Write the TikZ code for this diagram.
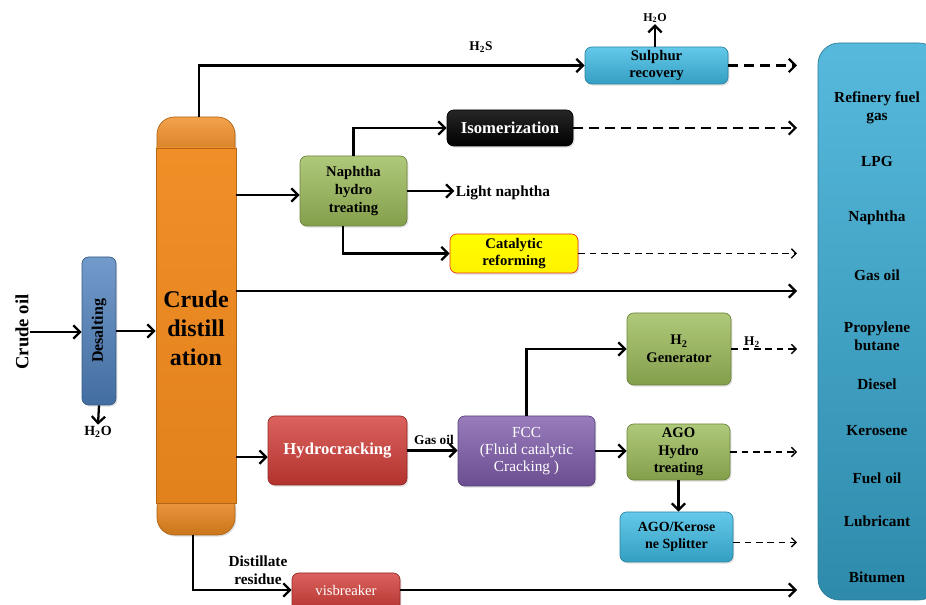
\documentclass[tikz,border=0pt]{standalone}
\usepackage{fontspec}
\setmainfont{Liberation Serif}
\usetikzlibrary{arrows.meta,fit,calc,shadows}
\definecolor{desblue}{HTML}{4F81BD}
\definecolor{colorange}{HTML}{F08A1E}
\definecolor{skyblue}{HTML}{3DBBE4}
\definecolor{leaf}{HTML}{9BBB59}
\definecolor{brick}{HTML}{D23B36}
\definecolor{violet}{HTML}{7E5BAA}
\definecolor{prodblue}{HTML}{39ADD6}
\begin{document}
\begin{tikzpicture}[x=0.75pt,y=-0.75pt,
  every node/.style={align=center},
  txt/.style={font=\bfseries\fontsize{#1}{\fpeval{#1*1.2}}\selectfont, inner sep=1pt},
  txt/.default=11,
  flow/.style={line width=1.7pt,-{Straight Barb[length=5pt,width=10pt,line width=1.7pt]}},
  dflow/.style={flow, dash pattern=on 7pt off 5pt},
  tflow/.style={line width=1pt, dash pattern=on 5pt off 3.5pt,-{Straight Barb[length=3.5pt,width=7pt,line width=1pt]}},
  unit/.style={draw=#1!70!black, line width=0.5pt, rounded corners=5pt, inner sep=0pt,
    top color=#1!80!white, bottom color=#1!85!black,
    drop shadow={opacity=0.25, shadow xshift=1pt, shadow yshift=-1.2pt}}
]
\useasboundingbox (0,0) rectangle (926,605);
\clip (0,0) rectangle (926,605);

% feed and desalting
\node[rotate=90, txt=14] (crude) at (22,332) {Crude oil};
\node[unit=desblue, fit={(82,257) (116,405)}] (des) {};
\node[rotate=90, txt=12] at (des.center) {Desalting};
\node[txt=10.5] (h2oa) at (98,432) {H\textsubscript{2}O};

% crude distillation column: dome, bottom cap and body
\node[unit=colorange, rounded corners=13pt, fit={(157,117) (235,165)}] (coltop) {};
\node[unit=colorange, rounded corners=13pt, fit={(157,490) (235,535)}] (colbot) {};
\node[draw=colorange!75!black, line width=0.5pt, inner sep=0pt,
      top color=colorange!96!white, bottom color=colorange!94!black,
      fit={(156,148) (236,503)}] (col) {};
\node[txt=18] at (196,328) {Crude\\distill\\ation};

% upper units
\node[unit=skyblue, fit={(585,47) (728,84)}] (sul) {};
\node[txt=11] at (sul) {Sulphur\\recovery};
\node[txt=9] (h2ob) at (655,18) {H\textsubscript{2}O};
\node[txt=10] (h2s) at (481,47) {H\textsubscript{2}S};
\node[unit=black, draw=black, top color=black!85, bottom color=black, fit={(447,110) (573,146)}] (iso) {};
\node[txt=12.5, text=white] at (iso) {Isomerization};
\node[unit=leaf, fit={(300,156) (407,226)}] (nap) {};
\node[txt=11] at (nap) {Naphtha\\hydro\\treating};
\node[txt=11.5] (ln) at (503,193) {Light naphtha};
\node[unit=yellow, draw=red!60!brown, top color=yellow, bottom color=yellow!90!orange, fit={(450,234) (578,273)}] (cat) {};
\node[txt=11] at (cat) {Catalytic\\reforming};

% lower units
\node[unit=brick, fit={(268,416) (407,485)}] (hc) {};
\node[txt=12.5, text=white] at (hc) {Hydrocracking};
\node[txt=10] (go) at (434,440) {Gas oil};
\node[unit=violet, fit={(458,416) (595,486)}] (fcc) {};
\node[text=white, font=\fontsize{11.5}{13}\selectfont] at (fcc) {FCC\\(Fluid catalytic\\Cracking )};
\node[unit=leaf, fit={(627,313) (731,385)}] (h2g) {};
\node[txt=11] at (h2g) {H\textsubscript{2}\\Generator};
\node[txt=10] (h2) at (752,342) {H\textsubscript{2}};
\node[unit=leaf, fit={(627,424) (730,480)}] (ago) {};
\node[txt=11] at (ago) {AGO\\Hydro\\treating};
\node[unit=skyblue, fit={(620,512) (733,562)}] (spl) {};
\node[txt=10.5] at (spl) {AGO/Kerose\\ne Splitter};
\node[unit=brick, fit={(292,573) (400,612)}] (vis) {};
\node[text=white, font=\fontsize{11}{12}\selectfont] at (346,590) {visbreaker};
\node[txt=11.5] (dres) at (258,570) {Distillate\\residue};

% product block
\node[draw=prodblue!70!black, line width=0.5pt, rounded corners=16pt, inner sep=0pt,
      top color=prodblue!85!white, bottom color=prodblue!80!black,
      fit={(818,43) (940,600)}] (prod) {};
\coordinate (outx) at (797,0);
\foreach \y/\t in {108/{Refinery fuel\\gas}, 162/LPG, 218/Naphtha, 275/Gas oil,
                   336/{Propylene\\butane}, 384/Diesel, 431/Kerosene, 478/Fuel oil,
                   521/Lubricant, 577/Bitumen}
  \node[txt=11.5, inner sep=0pt] at (877,\y) {\t};

% connectors
\draw[flow] (crude.south) -- (crude.south -| des.west);
\draw[flow] (des.east) -- (des.east -| col.west);
\draw[flow] (des.south) -- (h2oa.north);
\draw[flow] ([xshift=2pt]coltop.north) |- (sul.west);
\draw[flow] (sul.north -| h2ob) -- (h2ob.south);
\draw[dflow] (sul.east) -- (sul.east -| outx);
\draw[flow] (nap.north) |- (iso.west);
\draw[dflow] (iso.east) -- (iso.east -| outx);
\draw[flow] ([yshift=-3pt]nap.west -| col.east) -- ([yshift=-3pt]nap.west);
\draw[flow] (nap.east) -- (nap.east -| ln.west);
\draw[flow] ([xshift=-8pt]nap.south) |- (cat.west);
\draw[tflow] (cat.east) -- (cat.east -| outx);
\draw[flow] (col.east |- 0,291) -- (outx |- 0,291);
\draw[flow] ([yshift=-5pt]hc.west -| col.east) -- ([yshift=-5pt]hc.west);
\draw[flow] (hc.east) -- (hc.east -| fcc.west);
\draw[flow] (fcc.north) |- (h2g.west);
\draw[tflow] (h2g.east) -- (h2g.east -| outx);
\draw[flow] (fcc.east) -- (fcc.east -| ago.west);
\draw[tflow] (ago.east) -- (ago.east -| outx);
\draw[flow] (ago.south) -- (ago.south |- spl.north);
\draw[tflow] ([yshift=-4pt]spl.east) -- ([yshift=-4pt]spl.east -| outx);
\draw[flow] ([xshift=-2pt]colbot.south) |- (vis.west |- 0,590);
\draw[flow] (vis.east |- 0,590) -- (outx |- 0,590);
\end{tikzpicture}
\end{document}
